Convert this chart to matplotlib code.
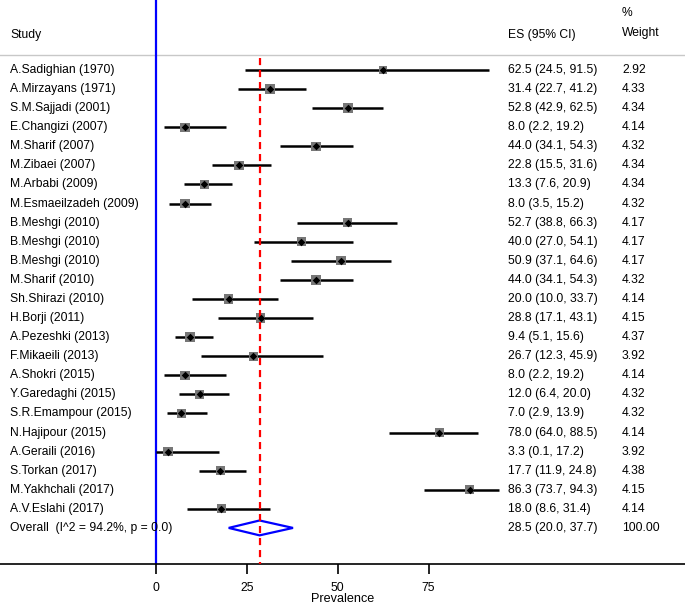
import matplotlib
matplotlib.use("Agg")
import matplotlib.pyplot as plt
import matplotlib.transforms as mtransforms
import numpy as np

plt.rcParams['font.family'] = ['Liberation Sans', 'DejaVu Sans']

studies = ["A.Sadighian (1970)", "A.Mirzayans (1971)", "S.M.Sajjadi (2001)", "E.Changizi (2007)",
           "M.Sharif (2007)", "M.Zibaei (2007)", "M.Arbabi (2009)", "M.Esmaeilzadeh (2009)",
           "B.Meshgi (2010)", "B.Meshgi (2010)", "B.Meshgi (2010)", "M.Sharif (2010)",
           "Sh.Shirazi (2010)", "H.Borji (2011)", "A.Pezeshki (2013)", "F.Mikaeili (2013)",
           "A.Shokri (2015)", "Y.Garedaghi (2015)", "S.R.Emampour (2015)", "N.Hajipour (2015)",
           "A.Geraili (2016)", "S.Torkan (2017)", "M.Yakhchali (2017)", "A.V.Eslahi (2017)"]
es = [62.5, 31.4, 52.8, 8.0, 44.0, 22.8, 13.3, 8.0, 52.7, 40.0, 50.9, 44.0,
      20.0, 28.8, 9.4, 26.7, 8.0, 12.0, 7.0, 78.0, 3.3, 17.7, 86.3, 18.0]
lo = [24.5, 22.7, 42.9, 2.2, 34.1, 15.5, 7.6, 3.5, 38.8, 27.0, 37.1, 34.1,
      10.0, 17.1, 5.1, 12.3, 2.2, 6.4, 2.9, 64.0, 0.1, 11.9, 73.7, 8.6]
hi = [91.5, 41.2, 62.5, 19.2, 54.3, 31.6, 20.9, 15.2, 66.3, 54.1, 64.6, 54.3,
      33.7, 43.1, 15.6, 45.9, 19.2, 20.0, 13.9, 88.5, 17.2, 24.8, 94.3, 31.4]
weights = [2.92, 4.33, 4.34, 4.14, 4.32, 4.34, 4.34, 4.32, 4.17, 4.17, 4.17, 4.32,
           4.14, 4.15, 4.37, 3.92, 4.14, 4.32, 4.32, 4.14, 3.92, 4.38, 4.15, 4.14]
overall_label = "Overall  (I^2 = 94.2%, p = 0.0)"
overall_es, overall_lo, overall_hi, overall_w = 28.5, 20.0, 37.7, 100.00
xticks = [0, 25, 50, 75]

W, H = 685, 604
fig = plt.figure(figsize=(W / 100, H / 100), dpi=100)
axis_px = 564
ax = fig.add_axes([0, (H - axis_px) / H, 1, axis_px / H])

px_per_unit = (337.7 - 156) / 50.0
x0_px = 156
ax.set_xlim(-x0_px / px_per_unit, (W - x0_px) / px_per_unit)
row0_px, row_step = 70, 19.08
ax.set_ylim((axis_px - row0_px) / row_step, -row0_px / row_step)

n = len(studies)
rows = np.arange(n)
trans = mtransforms.blended_transform_factory(ax.transAxes, ax.transData)
fs = 8.7

# reference lines
ax.axvline(0, color='#0000ff', lw=1.6, zorder=1)
ax.plot([overall_es, overall_es], [(58 - row0_px) / row_step, (axis_px - row0_px) / row_step + 1],
        color='red', lw=1.6, ls=(0, (3.2, 2.2)), zorder=4)

# header separator
ax.plot([0, 1], [(55 - row0_px) / row_step] * 2, transform=trans, color='#c8c8c8', lw=1.0, zorder=0)

# CIs
for i in range(n):
    ax.plot([lo[i], hi[i]], [rows[i], rows[i]], color='black', lw=1.8, zorder=2, solid_capstyle='butt')
side_ref = 9.5 * 72 / 100
sizes = [(side_ref * np.sqrt(w / 4.33)) ** 2 for w in weights]
ax.scatter(es, rows, s=sizes, marker='s', color='#777777', zorder=3, linewidths=0)
ax.scatter(es, rows, s=15, marker='D', color='black', zorder=5, linewidths=0)

# overall diamond
yo = n
hh = 0.39
ax.fill([overall_lo, overall_es, overall_hi, overall_es, overall_lo],
        [yo, yo - hh, yo, yo + hh, yo], facecolor='none', edgecolor='#0000ff', lw=1.6, zorder=3)

# texts
for i in range(n):
    ax.text(10 / W, rows[i], studies[i], transform=trans, fontsize=fs, va='center', ha='left')
    ax.text(508 / W, rows[i], f"{es[i]:.1f} ({lo[i]:.1f}, {hi[i]:.1f})", transform=trans,
            fontsize=fs, va='center', ha='left')
    ax.text(622 / W, rows[i], f"{weights[i]:.2f}", transform=trans, fontsize=fs, va='center', ha='left')
ax.text(10 / W, yo, overall_label, transform=trans, fontsize=fs, va='center', ha='left')
ax.text(508 / W, yo, f"{overall_es:.1f} ({overall_lo:.1f}, {overall_hi:.1f})", transform=trans,
        fontsize=fs, va='center', ha='left')
ax.text(622 / W, yo, f"{overall_w:.2f}", transform=trans, fontsize=fs, va='center', ha='left')

# header
ax.text(10 / W, (35 - row0_px) / row_step, "Study", transform=trans, fontsize=fs, va='center', ha='left')
ax.text(508 / W, (35 - row0_px) / row_step, "ES (95% CI)", transform=trans, fontsize=fs, va='center', ha='left')
ax.text(622 / W, (13 - row0_px) / row_step, "%", transform=trans, fontsize=fs, va='center', ha='left')
ax.text(622 / W, (33 - row0_px) / row_step, "Weight", transform=trans, fontsize=fs, va='center', ha='left')

# axis styling
for s in ['top', 'right', 'left']:
    ax.spines[s].set_visible(False)
ax.spines['bottom'].set_linewidth(1.2)
ax.set_yticks([])
ax.set_xticks(xticks)
ax.set_xticklabels([str(t) for t in xticks], fontsize=fs)
ax.tick_params(axis='x', length=7, width=1.2, pad=6)
ax.set_xlabel("Prevalence", fontsize=fs + 0.4, labelpad=-1)

fig.savefig("out.png", dpi=100)
